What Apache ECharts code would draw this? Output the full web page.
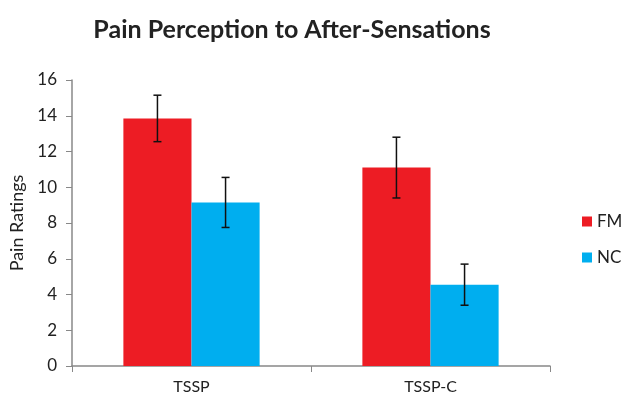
<!DOCTYPE html>
<html><head><meta charset="utf-8">
<script src="https://cdn.jsdelivr.net/npm/echarts@6/dist/echarts.min.js"></script>
<style>html,body{margin:0;padding:0;background:#fff}#c{width:621px;height:399px}</style>
</head><body><div id="c"></div>
<script>
const categories = ['TSSP', 'TSSP-C'];
const fmValues = [13.85, 11.1];
const ncValues = [9.15, 4.55];
const fmErr = [1.3, 1.7];
const ncErr = [1.4, 1.15];
const yTicks = [0, 2, 4, 6, 8, 10, 12, 14, 16];

const chart = echarts.init(document.getElementById('c'));
const gapRatio = 0.43;
function errSeries(vals, errs, sign) {
  return {
    type: 'custom',
    z: 10,
    silent: true,
    data: vals.map((v, i) => [i, v - errs[i], v + errs[i]]),
    renderItem: function (params, api) {
      const i = api.value(0);
      const lo = api.coord([i, api.value(1)]);
      const hi = api.coord([i, api.value(2)]);
      const bw = api.size([1, 0])[0] * (1 - gapRatio) / 2;
      const x = lo[0] + sign * bw / 2;
      const cap = 4;
      const st = { stroke: '#111', lineWidth: 1.5 };
      return {
        type: 'group',
        children: [
          { type: 'line', shape: { x1: x, y1: lo[1], x2: x, y2: hi[1] }, style: st },
          { type: 'line', shape: { x1: x - cap, y1: lo[1], x2: x + cap, y2: lo[1] }, style: st },
          { type: 'line', shape: { x1: x - cap, y1: hi[1], x2: x + cap, y2: hi[1] }, style: st }
        ]
      };
    }
  };
}
chart.setOption({
  animation: false,
  textStyle: { fontFamily: 'Lato' },
  title: {
    text: 'Pain Perception to After-Sensations',
    left: 287, top: 12, textAlign: 'center',
    textStyle: { fontSize: 25, fontWeight: 'bold', color: '#222', fontFamily: 'Lato' }
  },
  legend: {
    orient: 'vertical', left: 577, top: 208,
    icon: 'rect', itemWidth: 10, itemHeight: 10, itemGap: 19,
    textStyle: { fontSize: 17, color: '#222' },
    data: ['FM', 'NC']
  },
  grid: { left: 72, right: 71, top: 80, bottom: 33, containLabel: false, outerBoundsMode: 'none' },
  xAxis: {
    type: 'category', data: categories,
    axisLine: { lineStyle: { color: '#888', width: 1.5 } },
    axisTick: { show: true, length: 6, lineStyle: { color: '#888' } },
    axisLabel: { fontSize: 16, color: '#222', margin: 13 }
  },
  yAxis: {
    type: 'value', min: 0, max: 16, interval: 2,
    name: 'Pain Ratings', nameLocation: 'middle', nameGap: 46,
    nameTextStyle: { fontSize: 18, color: '#222' },
    axisLine: { show: true, lineStyle: { color: '#888', width: 1.5 } },
    axisTick: { show: true, length: 6, lineStyle: { color: '#888' } },
    splitLine: { show: false },
    axisLabel: { fontSize: 17, color: '#222', margin: 15, formatter: v => yTicks.includes(v) ? String(v) : '' }
  },
  series: [
    { name: 'FM', type: 'bar', data: fmValues, barGap: '0%', barCategoryGap: '43%', itemStyle: { color: '#ed1c24' } },
    { name: 'NC', type: 'bar', data: ncValues, barGap: '0%', barCategoryGap: '43%', itemStyle: { color: '#00aeef' } },
    errSeries(fmValues, fmErr, -1),
    errSeries(ncValues, ncErr, 1)
  ]
});
</script></body></html>
